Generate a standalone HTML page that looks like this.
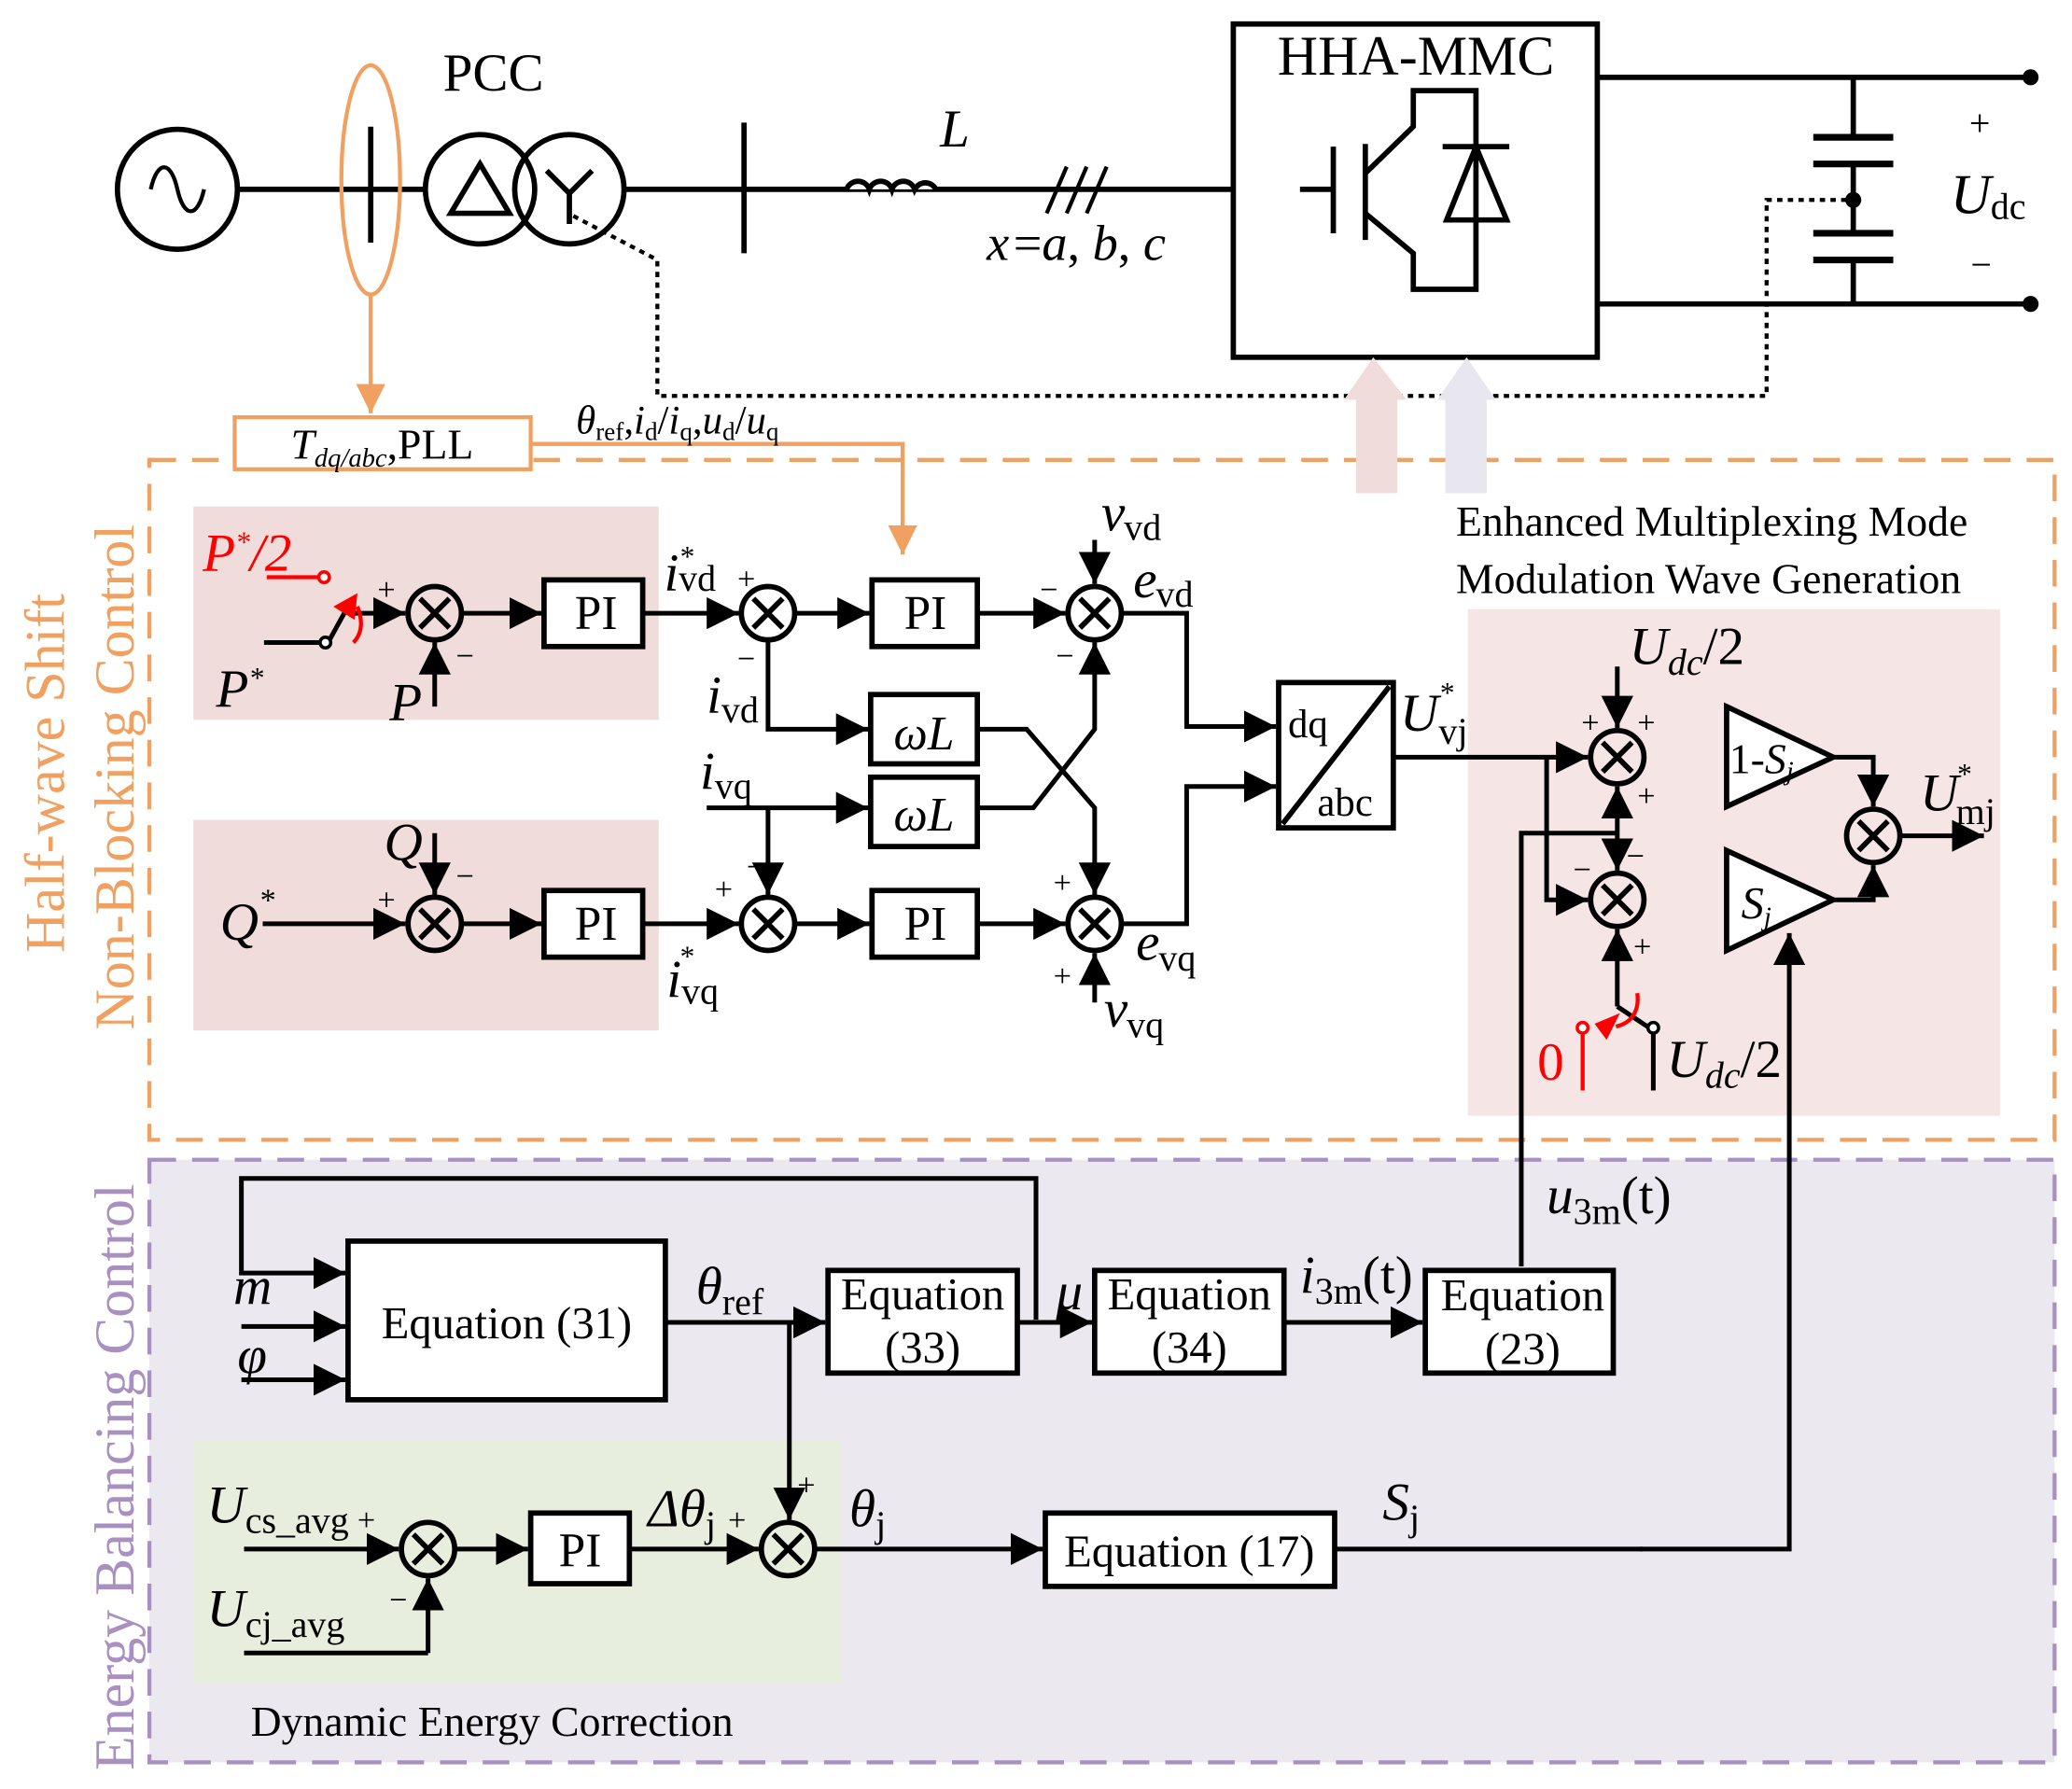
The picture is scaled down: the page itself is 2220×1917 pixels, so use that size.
<!DOCTYPE html>
<html><head><meta charset="utf-8"><style>
html,body{margin:0;padding:0;background:#fff;}
svg{display:block;}
text{font-family:"Liberation Serif",serif;fill:#000;}
.it{font-style:italic;}
</style></head><body>
<svg width="2220" height="1917" viewBox="0 0 1554 1342" xmlns="http://www.w3.org/2000/svg">
<defs>
<marker id="a" viewBox="0 0 10 10" refX="10" refY="5" markerWidth="24" markerHeight="24" markerUnits="userSpaceOnUse" orient="auto"><path d="M0,0L10,5L0,10z" fill="#000"/></marker>
<marker id="o" viewBox="0 0 10 10" refX="10" refY="5" markerWidth="22" markerHeight="22" markerUnits="userSpaceOnUse" orient="auto"><path d="M0,0L10,5L0,10z" fill="#f0a060"/></marker>
<g id="x"><circle r="20" fill="none" stroke="#000" stroke-width="4"/><path d="M-11,-11L11,11M-11,11L11,-11" stroke="#000" stroke-width="4"/></g>
</defs>
<rect x="112" y="870" width="1429" height="452" fill="#ece8f0"/>
<rect x="145" y="380" width="349" height="160" fill="#f0dcdb"/>
<rect x="145" y="615" width="349" height="158" fill="#f0dcdb"/>
<rect x="1101" y="457" width="399" height="380" fill="#f5e6e5"/>
<rect x="145" y="1080" width="486" height="182" fill="#e8eedd"/>
<rect x="112" y="345" width="1429" height="510" fill="none" stroke="#f0a060" stroke-width="3" stroke-dasharray="20,12"/>
<rect x="112" y="870" width="1429" height="452" fill="none" stroke="#a890c0" stroke-width="3" stroke-dasharray="20,12"/>
<text transform="translate(48,580) rotate(-90)" text-anchor="middle" font-size="42" style="fill:#f0a060">Half-wave Shift</text>
<text transform="translate(100,583) rotate(-90)" text-anchor="middle" font-size="42" style="fill:#f0a060">Non-Blocking Control</text>
<text transform="translate(100,1108) rotate(-90)" text-anchor="middle" font-size="42" style="fill:#a890c0">Energy Balancing Control</text>

<g stroke="#000" stroke-width="4" fill="none">
<circle cx="133" cy="142" r="45"/>
<path d="M113,142 C118,120 128,120 133,142 C138,164 148,164 153,142" stroke-width="3"/>
<path d="M178,142H318M469,142H925"/>
<path d="M278,95V182M558,92V190"/>
<circle cx="360" cy="142" r="41"/><circle cx="427" cy="142" r="41"/>
<path d="M338,160L360,123L382,160Z"/>
<path d="M427,145V168M427,145L410,128M427,145L444,128"/>
<path d="M635,142 a9,9 0 0 1 17,0 a9,9 0 0 1 17,0 a9,9 0 0 1 17,0 a9,9 0 0 1 16,0" stroke="#000" fill="#fff"/>
<path d="M785,160L800,125M800,160L815,125M815,160L830,125" stroke-width="3"/>
<rect x="925" y="18" width="273" height="250"/>
<path d="M975,142H1000M1000,110V175M1024,108V180M1024,130L1060,95V68H1107V217H1060V190L1024,160M1082,110H1132M1107,110L1085,165H1130Z"/>
<path d="M1198,58H1523M1198,228H1523M1390,58V103M1390,123V175M1390,195V228"/>
<path d="M1360,103H1420M1360,123H1420M1360,175H1420M1360,195H1420" stroke-width="5"/>
<path d="M430,162L493,195V297H1325V150H1390" stroke-dasharray="4,4" stroke-width="3"/>
</g>
<circle cx="1523" cy="58" r="6"/><circle cx="1523" cy="228" r="6"/><circle cx="1390" cy="150" r="6"/>
<path d="M1100,268L1122,300H1115V370H1084V300H1078Z" fill="#e8e6ee"/>
<path d="M1030,268L1055,300H1048V370H1017V300H1008Z" fill="#f0dcdb"/>
<text x="370" y="68" font-size="40" text-anchor="middle">PCC</text>
<text x="705" y="110" font-size="40" class="it">L</text>
<text x="740" y="195" font-size="38" class="it">x</text><text x="760" y="195" font-size="38">=<tspan class="it">a</tspan>, <tspan class="it">b</tspan>, <tspan class="it">c</tspan></text>
<text x="1062" y="56" font-size="42" text-anchor="middle">HHA-MMC</text>
<text x="1477" y="102" font-size="28">+</text><text x="1478" y="208" font-size="28">−</text>
<text x="1463" y="160" font-size="42" class="it">U</text><text x="1493" y="164" font-size="28">dc</text>

<ellipse cx="278" cy="135" rx="22" ry="86" fill="none" stroke="#f0a060" stroke-width="3"/>
<path d="M398,333H677V416" stroke="#f0a060" stroke-width="3" fill="none" marker-end="url(#o)"/>
<path d="M278,221V310" stroke="#f0a060" stroke-width="3" marker-end="url(#o)"/>
<rect x="176" y="313" width="222" height="39" fill="#fff" stroke="#f0a060" stroke-width="3"/>
<text x="218" y="344" font-size="32"><tspan class="it">T</tspan><tspan font-size="20" class="it" dy="6">dq/abc</tspan><tspan dy="-6">,PLL</tspan></text>
<text x="432" y="325" font-size="30"><tspan class="it">θ</tspan><tspan font-size="19" dy="5">ref</tspan><tspan dy="-5">,</tspan><tspan class="it">i</tspan><tspan font-size="19" dy="5">d</tspan><tspan dy="-5">/</tspan><tspan class="it">i</tspan><tspan font-size="19" dy="5">q</tspan><tspan dy="-5">,</tspan><tspan class="it">u</tspan><tspan font-size="19" dy="5">d</tspan><tspan dy="-5">/</tspan><tspan class="it">u</tspan><tspan font-size="19" dy="5">q</tspan></text>
<text x="1092" y="402" font-size="32">Enhanced Multiplexing Mode</text>
<text x="1092" y="445" font-size="32">Modulation Wave Generation</text>

<g stroke="#000" stroke-width="4" fill="#fff">
<rect x="408" y="435" width="74" height="50"/><rect x="654" y="435" width="79" height="50"/>
<rect x="653" y="521" width="80" height="52"/><rect x="653" y="583" width="80" height="52"/>
<rect x="408" y="668" width="74" height="50"/><rect x="654" y="668" width="79" height="50"/>
<rect x="959" y="512" width="86" height="109"/>
<path d="M1295,530L1375,568L1295,605Z M1295,638L1375,675L1295,713Z"/>
<rect x="261" y="931" width="238" height="119"/>
<rect x="621" y="953" width="142" height="77"/><rect x="821" y="953" width="142" height="77"/><rect x="1069" y="953" width="141" height="77"/>
<rect x="398" y="1135" width="74" height="53"/><rect x="784" y="1135" width="217" height="55"/>
</g>
<path d="M962,618L1042,515" stroke="#000" stroke-width="4"/>
<use href="#x" x="326" y="460"/><use href="#x" x="576" y="460"/><use href="#x" x="821" y="460"/>
<use href="#x" x="326" y="693"/><use href="#x" x="576" y="693"/><use href="#x" x="821" y="693"/>
<use href="#x" x="1213" y="568"/><use href="#x" x="1213" y="675"/><use href="#x" x="1405" y="627"/>
<use href="#x" x="321" y="1162"/><use href="#x" x="591" y="1162"/>

<g stroke="#000" stroke-width="3.5" fill="none" marker-end="url(#a)">
<path d="M346,460H406"/><path d="M482,460H554"/><path d="M596,460H652"/><path d="M733,460H799"/>
<path d="M326,530V482"/>
<path d="M197,693H304"/><path d="M326,625V671"/><path d="M346,693H406"/><path d="M482,693H554"/><path d="M596,693H652"/><path d="M733,693H799"/>
<path d="M576,480V547H651"/><path d="M530,606H651"/><path d="M576,606V671"/>
<path d="M733,547H770L821,606V671"/><path d="M733,606H775L821,547V482"/>
<path d="M821,405V438"/><path d="M821,752V715"/>
<path d="M841,460H890V545H957"/><path d="M841,693H890V590H957"/>
<path d="M1045,568H1191"/><path d="M1160,568V675H1191"/>
<path d="M1213,500V546"/><path d="M1213,630V590"/><path d="M1213,630V653"/>
<path d="M1213,755V697"/>
<path d="M1375,568H1405V605"/><path d="M1375,675H1405V649"/>
<path d="M1425,627H1488"/>
<path d="M1141,950V625H1213" marker-end="none"/>
<path d="M1230,1162H1342V700"/>
</g>
<g stroke="#000" stroke-width="3.5" fill="none">
<path d="M198,482H243"/><path d="M246,482L262,453"/><path d="M262,460H304" marker-end="url(#a)"/>
<path d="M1213,755L1240,773V818"/>
</g>
<circle cx="244" cy="482" r="4" fill="#fff" stroke="#000" stroke-width="2.5"/>
<circle cx="1240" cy="771" r="4" fill="#fff" stroke="#000" stroke-width="2.5"/>
<path d="M200,433H240" stroke="#f00" stroke-width="3"/><circle cx="243" cy="433" r="4" fill="#fff" stroke="#f00" stroke-width="2.5"/>
<path d="M268,455 C272,465 272,475 265,482" stroke="#f00" stroke-width="3" fill="none"/><path d="M250,455L268,445L266,465Z" fill="#f00"/>
<path d="M1187,818V775" stroke="#f00" stroke-width="3"/><circle cx="1187" cy="771" r="4" fill="#fff" stroke="#f00" stroke-width="2.5"/>
<path d="M1228,745 C1230,760 1222,768 1212,770" stroke="#f00" stroke-width="3" fill="none"/><path d="M1196,768L1215,760L1205,780Z" fill="#f00"/>

<g stroke="#000" stroke-width="3.5" fill="none" marker-end="url(#a)">
<path d="M777,990V884H181V955H259"/>
<path d="M181,995H259"/><path d="M181,1035H259"/>
<path d="M499,992H619"/><path d="M592,992V1140"/>
<path d="M763,992H819"/><path d="M963,992H1067"/>
<path d="M183,1162H299"/><path d="M321,1240V1184"/><path d="M183,1240H321" marker-end="none"/>
<path d="M341,1162H396"/><path d="M472,1162H569"/><path d="M611,1162H782"/>
</g>
<path d="M1001,1162H1232" stroke="#000" stroke-width="3.5"/>

<g font-size="36">
<text x="447" y="472" text-anchor="middle">PI</text><text x="694" y="472" text-anchor="middle">PI</text>
<text x="447" y="705" text-anchor="middle">PI</text><text x="694" y="705" text-anchor="middle">PI</text>
<text x="693" y="562" text-anchor="middle" class="it">ωL</text><text x="693" y="623" text-anchor="middle" class="it">ωL</text>
<text x="435" y="1175" text-anchor="middle">PI</text>
</g>
<text x="966" y="553" font-size="30">dq</text><text x="988" y="612" font-size="30">abc</text>
<text x="1297" y="580" font-size="32">1-<tspan class="it">S</tspan><tspan class="it" font-size="20" dy="5">j</tspan></text>
<text x="1306" y="689" font-size="34" class="it">S<tspan font-size="20" dy="5">j</tspan></text>
<g font-size="34">
<text x="380" y="1004" text-anchor="middle">Equation (31)</text>
<text x="692" y="982" text-anchor="middle">Equation</text><text x="692" y="1022" text-anchor="middle">(33)</text>
<text x="892" y="982" text-anchor="middle">Equation</text><text x="892" y="1022" text-anchor="middle">(34)</text>
<text x="1142" y="983" text-anchor="middle">Equation</text><text x="1142" y="1023" text-anchor="middle">(23)</text>
<text x="892" y="1175" text-anchor="middle">Equation (17)</text>
</g>
<g font-size="40">
<text x="152" y="428" class="it" style="fill:#f00">P<tspan font-size="22" dy="-14">*</tspan><tspan dy="14">/2</tspan></text>
<text x="162" y="530" class="it">P<tspan font-size="22" dy="-14">*</tspan></text>
<text x="292" y="540" class="it">P</text>
<text x="288" y="645" class="it">Q</text>
<text x="165" y="705" class="it">Q<tspan font-size="24" dy="-22">*</tspan></text>
<text x="498" y="443" class="it">i</text><text x="510" y="425" font-size="22">*</text><text x="509" y="443" font-size="28">vd</text>
<text x="530" y="535" class="it">i</text><text x="541" y="542" font-size="28">vd</text>
<text x="525" y="592" class="it">i</text><text x="536" y="599" font-size="28">vq</text>
<text x="500" y="748" class="it">i</text><text x="510" y="725" font-size="22">*</text><text x="511" y="753" font-size="28">vq</text>
<text x="826" y="398" class="it">v</text><text x="843" y="405" font-size="28">vd</text>
<text x="850" y="448" class="it">e</text><text x="867" y="455" font-size="28">vd</text>
<text x="852" y="720" class="it">e</text><text x="869" y="728" font-size="28">vq</text>
<text x="828" y="770" class="it">v</text><text x="845" y="778" font-size="28">vq</text>
<text x="1050" y="548" class="it">U</text><text x="1079" y="558" font-size="28">vj</text><text x="1080" y="527" font-size="22">*</text>
<text x="1222" y="498" class="it">U<tspan font-size="28" dy="8">dc</tspan><tspan dy="-8" style="font-style:normal">/2</tspan></text>
<text x="1250" y="808" class="it">U<tspan font-size="28" dy="8">dc</tspan><tspan dy="-8" style="font-style:normal">/2</tspan></text>
<text x="1153" y="810" style="fill:#f00">0</text>
<text x="1440" y="608" class="it">U</text><text x="1467" y="618" font-size="28">mj</text><text x="1468" y="588" font-size="22">*</text>
<text x="1160" y="910" class="it">u<tspan font-size="28" dy="8" style="font-style:normal">3m</tspan><tspan dy="-8" style="font-style:normal">(t)</tspan></text>
<text x="975" y="970" class="it">i<tspan font-size="28" dy="8" style="font-style:normal">3m</tspan><tspan dy="-8" style="font-style:normal">(t)</tspan></text>
<text x="522" y="978" class="it">θ<tspan font-size="28" dy="8" style="font-style:normal">ref</tspan></text>
<text x="792" y="982" class="it">μ</text>
<text x="175" y="978" class="it">m</text>
<text x="178" y="1030" class="it">φ</text>
<text x="155" y="1142" class="it">U<tspan font-size="28" dy="8" style="font-style:normal">cs_avg</tspan></text>
<text x="155" y="1220" class="it">U<tspan font-size="28" dy="8" style="font-style:normal">cj_avg</tspan></text>
<text x="486" y="1145" class="it">Δθ<tspan font-size="28" dy="8" style="font-style:normal">j</tspan></text>
<text x="637" y="1145" class="it">θ<tspan font-size="28" dy="8" style="font-style:normal">j</tspan></text>
<text x="1037" y="1140" class="it">S<tspan font-size="28" dy="8" style="font-style:normal">j</tspan></text>
</g>
<text x="188" y="1302" font-size="32">Dynamic Energy Correction</text>
<g font-size="24">
<text x="283" y="450">+</text><text x="342" y="500">−</text>
<text x="283" y="683">+</text><text x="342" y="665">−</text>
<text x="553" y="442">+</text><text x="553" y="502">−</text>
<text x="536" y="675">+</text><text x="560" y="658">−</text>
<text x="780" y="450">−</text><text x="792" y="500">−</text>
<text x="790" y="670">+</text><text x="790" y="740">+</text>
<text x="1186" y="550">+</text><text x="1228" y="550">+</text><text x="1228" y="605">+</text>
<text x="1220" y="650">−</text><text x="1180" y="660">−</text><text x="1225" y="718">+</text>
<text x="268" y="1148">+</text><text x="292" y="1208">−</text>
<text x="546" y="1148">+</text><text x="598" y="1122">+</text>
</g>
</svg>
</body></html>
